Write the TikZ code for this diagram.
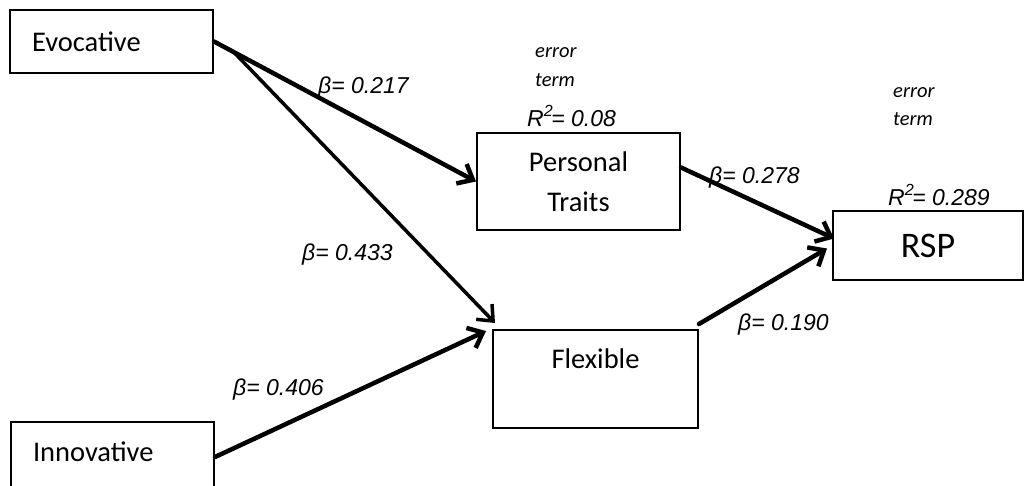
\documentclass[tikz,border=0pt]{standalone}
\usepackage{fontspec}
\setmainfont{Carlito}
\newfontfamily\arialfont{Liberation Sans}
\usetikzlibrary{arrows.meta,calc}

\tikzset{
  factor/.style={draw, line width=2pt, inner sep=0pt, font=\fontsize{28.5}{40}\selectfont},
  coef/.style={font=\arialfont\itshape\fontsize{23}{27}\selectfont, inner sep=0pt, anchor=base west},
  errlabel/.style={font=\itshape\fontsize{20.5}{24}\selectfont, inner sep=0pt, anchor=base west},
  effect/.style={line width=4.5pt, line cap=round, -{Straight Barb[length=13pt,width=22pt]}},
}

\begin{document}
\begin{tikzpicture}[x=1pt, y=-1pt]
  \useasboundingbox (0,0) rectangle (1026,485);
  % Predictors
  \node[factor, minimum width=203pt, minimum height=63pt, text width=159pt, align=left] (evoc) at (111.5,41.5) {Evocative};
  \node[factor, anchor=north west, minimum width=203pt, text width=159pt, align=left,
        text height=39pt, text depth=31pt] (innov) at (10,421) {Innovative};
  % Mediators & outcome
  \node[factor, minimum width=203pt, minimum height=97pt, align=center] (pers) at (578.5,181.5) {Personal\\Traits};
  \node[factor, minimum width=205pt, minimum height=98pt, align=center] (flex) at (595.5,379) {Flexible\\\mbox{}};
  \node[factor, minimum width=190pt, minimum height=69pt, font=\fontsize{36}{43}\selectfont] (rsp) at (928,245.5) {RSP};
  % Paths
  \coordinate (fork) at ($(evoc.east)!0.075!(pers.west)$);
  \draw[effect] (evoc.east) -- (pers.west);
  \draw[effect, line width=3.5pt] (fork) -- ([xshift=3pt, yshift=6pt]flex.north west);
  \draw[effect] (innov.east) -- ([xshift=-6pt, yshift=-2pt]flex.north west);
  \draw[effect] ([yshift=14pt]pers.east) -- ([xshift=2pt, yshift=7pt]rsp.west);
  \draw[effect] ([yshift=5pt]flex.north east) -- ([xshift=-5pt, yshift=-3pt]rsp.west);
  % Coefficients
  \node[coef] (b217) at (318,93)  {β= 0.217};
  \node[coef] (b433) at (302,260) {β= 0.433};
  \node[coef] (b406) at (233,395) {β= 0.406};
  \node[coef] (b278) at (709,183) {β= 0.278};
  \node[coef] (b190) at (738,330) {β= 0.190};
  % Explained variance
  \node[coef] (r08)  at (527,126) {R\textsuperscript{2}\kern-2pt= 0.08};
  \node[coef] (r289) at (888,205) {R\textsuperscript{2}\kern-2pt= 0.289};
  \node[errlabel] (err1)  at (535,57)  {error};
  \node[errlabel] (term1) at (535,86)  {term};
  \node[errlabel] (err2)  at (893,97)  {error};
  \node[errlabel] (term2) at (893,125) {term};
\end{tikzpicture}
\end{document}
